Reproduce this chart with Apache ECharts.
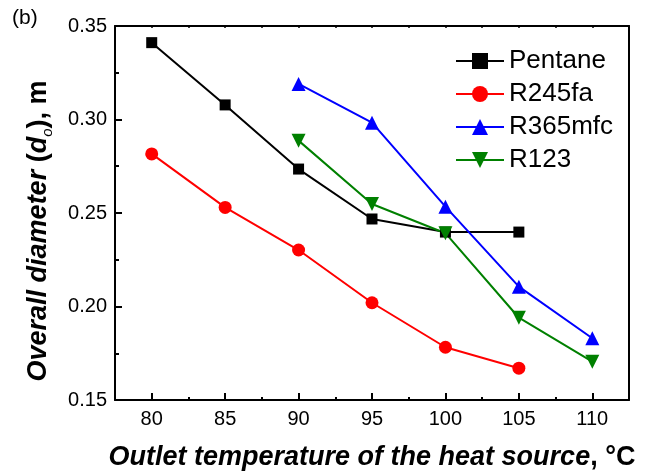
<!DOCTYPE html>
<html><head><meta charset="utf-8">
<script src="https://cdn.jsdelivr.net/npm/echarts@6/dist/echarts.min.js"></script>
<style>html,body{margin:0;padding:0;background:#fff}#c{width:645px;height:474px}</style>
</head><body><div id="c"></div>
<script>
const temps = [80, 85, 90, 95, 100, 105, 110];
const pentaneX = [80, 85, 90, 95, 100, 105];
const pentaneY = [0.3411, 0.3078, 0.2735, 0.2468, 0.2398, 0.2398];
const r245faX = [80, 85, 90, 95, 100, 105];
const r245faY = [0.2816, 0.2530, 0.2302, 0.2020, 0.1782, 0.1670];
const r365mfcX = [90, 95, 100, 105, 110];
const r365mfcY = [0.3190, 0.2983, 0.2534, 0.2106, 0.1830];
const r123X = [90, 95, 100, 105, 110];
const r123Y = [0.2887, 0.2548, 0.2392, 0.1940, 0.1705];
const xTickLabels = ['80', '85', '90', '95', '100', '105', '110'];
const yTickLabels = ['0.15', '0.20', '0.25', '0.30', '0.35'];

const FONT = 'Liberation Sans, Arial, sans-serif';
const zip = (xs, ys) => xs.map((x, i) => [x, ys[i]]);

const chart = echarts.init(document.getElementById('c'), null, {renderer: 'canvas'});
const baseLine = {lineStyle: {color: '#000', width: 2}};
function mk(name, xs, ys, color, symbol, size, rot) {
  return {
    name, type: 'line', data: zip(xs, ys), symbol, symbolSize: size, symbolRotate: rot || 0,
    lineStyle: {color, width: 2}, itemStyle: {color}, z: 3, animation: false
  };
}
const TS = 27;
chart.setOption({
  animation: false,
  backgroundColor: '#fff',
  grid: {left: 115, right: 16, top: 26, bottom: 74, outerBoundsMode: 'none', containLabel: false},
  legend: {
    orient: 'vertical', left: 450, top: 42, itemWidth: 48, itemHeight: 20, itemGap: 5,
    textStyle: {fontFamily: FONT, fontSize: 26, color: '#000', lineHeight: 28},
    data: ['Pentane', 'R245fa', 'R365mfc', 'R123']
  },
  xAxis: [{
    type: 'value', position: 'bottom', min: 77.5, max: 112.5, interval: 2.5,
    axisLine: baseLine, splitLine: {show: false},
    axisTick: {inside: true, length: 3, lineStyle: {color: '#000', width: 2}},
    axisLabel: {
      fontFamily: FONT, fontSize: 20, color: '#000', margin: 9,
      formatter: v => { const i = temps.indexOf(v); return i >= 0 ? xTickLabels[i] : ''; }
    },
    name: '{i|Outlet temperature of the heat source}{u|, °C}', nameLocation: 'middle', nameGap: 44,
    nameTextStyle: {
      rich: {
        i: {fontFamily: FONT, fontSize: TS, fontWeight: 'bold', fontStyle: 'italic', color: '#000'},
        u: {fontFamily: FONT, fontSize: TS, fontWeight: 'bold', color: '#000'}
      }
    }
  }, {
    type: 'value', position: 'bottom', min: 77.5, max: 112.5, interval: 2.5,
    axisLine: {show: false}, splitLine: {show: false}, axisLabel: {show: false},
    axisTick: {inside: true, length: 7, customValues: temps, lineStyle: {color: '#000', width: 2}}
  }, {
    type: 'value', position: 'top', min: 77.5, max: 112.5, interval: 2.5,
    axisLine: baseLine, splitLine: {show: false}, axisLabel: {show: false},
    axisTick: {inside: true, length: 2, lineStyle: {color: '#000', width: 1.5}}
  }],
  yAxis: [{
    type: 'value', position: 'left', min: 0.15, max: 0.35, interval: 0.05,
    axisLine: {show: true, lineStyle: {color: '#000', width: 2}}, splitLine: {show: false},
    axisTick: {show: true, inside: true, length: 7, lineStyle: {color: '#000', width: 2}},
    minorTick: {show: true, splitNumber: 2, length: 4, lineStyle: {color: '#000', width: 2}},
    axisLabel: {
      fontFamily: FONT, fontSize: 20, color: '#000', margin: 8,
      formatter: v => { const i = Math.round((v - 0.15) / 0.05); return yTickLabels[i] || ''; }
    }
  }, {
    type: 'value', position: 'right', min: 0.15, max: 0.35, interval: 0.05,
    axisLine: {show: true, lineStyle: {color: '#000', width: 2}}, splitLine: {show: false},
    axisTick: {show: false}, axisLabel: {show: false}
  }],
  graphic: [{
    type: 'text', left: 12, top: 8,
    style: {text: '(b)', fontFamily: FONT, fontSize: 21, fill: '#000'}
  }, {
    type: 'text', x: 39, y: 231, rotation: Math.PI / 2,
    style: {
      text: '{a|Overall diameter }{u|(}{b|d}{s|o}{u|), m}',
      align: 'center', verticalAlign: 'middle',
      rich: {
        a: {fontFamily: FONT, fontSize: TS, fontWeight: 'bold', fontStyle: 'italic', fill: '#000', lineHeight: 32},
        u: {fontFamily: FONT, fontSize: TS, fontWeight: 'bold', fill: '#000', lineHeight: 32},
        b: {fontFamily: FONT, fontSize: TS, fontWeight: 'bold', fontStyle: 'italic', fill: '#000', lineHeight: 32},
        s: {fontFamily: FONT, fontSize: 15, fontStyle: 'italic', fill: '#000', lineHeight: 12, verticalAlign: 'bottom'}
      }
    }
  }],
  series: [
    mk('Pentane', pentaneX, pentaneY, '#000000', 'rect', 11),
    mk('R245fa', r245faX, r245faY, '#ff0000', 'circle', 13),
    mk('R365mfc', r365mfcX, r365mfcY, '#0000ff', 'triangle', 14),
    mk('R123', r123X, r123Y, '#008000', 'triangle', 14, 180)
  ]
});
</script></body></html>
